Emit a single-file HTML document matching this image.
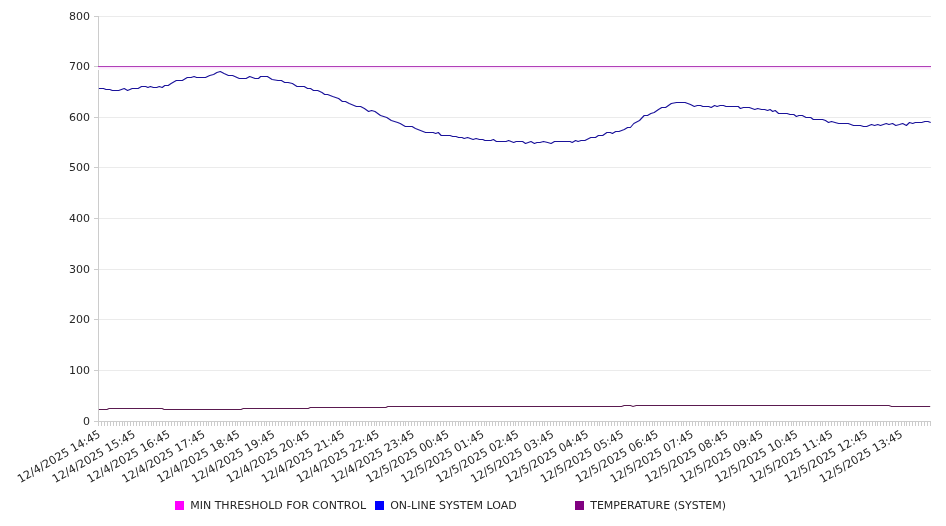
<!DOCTYPE html>
<html><head><meta charset="utf-8"><title>Chart</title>
<style>
html,body{margin:0;padding:0;background:#fff;}
body{width:946px;height:526px;overflow:hidden;}
svg{display:block;will-change:transform;font-family:"DejaVu Sans","Liberation Sans",sans-serif;font-size:11px;fill:#262626;}
</style></head>
<body>
<svg width="946" height="526" viewBox="0 0 946 526">
<line x1="98.0" y1="16.5" x2="931.0" y2="16.5" stroke="#ebebeb" stroke-width="1"/>
<line x1="98.0" y1="66.5" x2="931.0" y2="66.5" stroke="#ebebeb" stroke-width="1"/>
<line x1="98.0" y1="117.5" x2="931.0" y2="117.5" stroke="#ebebeb" stroke-width="1"/>
<line x1="98.0" y1="167.5" x2="931.0" y2="167.5" stroke="#ebebeb" stroke-width="1"/>
<line x1="98.0" y1="218.5" x2="931.0" y2="218.5" stroke="#ebebeb" stroke-width="1"/>
<line x1="98.0" y1="269.5" x2="931.0" y2="269.5" stroke="#ebebeb" stroke-width="1"/>
<line x1="98.0" y1="319.5" x2="931.0" y2="319.5" stroke="#ebebeb" stroke-width="1"/>
<line x1="98.0" y1="370.5" x2="931.0" y2="370.5" stroke="#ebebeb" stroke-width="1"/>
<line x1="94" y1="16.5" x2="98.0" y2="16.5" stroke="#cccccc" stroke-width="1"/>
<text x="90" y="20" text-anchor="end">800</text>
<line x1="94" y1="66.5" x2="98.0" y2="66.5" stroke="#cccccc" stroke-width="1"/>
<text x="90" y="70" text-anchor="end">700</text>
<line x1="94" y1="117.5" x2="98.0" y2="117.5" stroke="#cccccc" stroke-width="1"/>
<text x="90" y="121" text-anchor="end">600</text>
<line x1="94" y1="167.5" x2="98.0" y2="167.5" stroke="#cccccc" stroke-width="1"/>
<text x="90" y="171" text-anchor="end">500</text>
<line x1="94" y1="218.5" x2="98.0" y2="218.5" stroke="#cccccc" stroke-width="1"/>
<text x="90" y="222" text-anchor="end">400</text>
<line x1="94" y1="269.5" x2="98.0" y2="269.5" stroke="#cccccc" stroke-width="1"/>
<text x="90" y="273" text-anchor="end">300</text>
<line x1="94" y1="319.5" x2="98.0" y2="319.5" stroke="#cccccc" stroke-width="1"/>
<text x="90" y="323" text-anchor="end">200</text>
<line x1="94" y1="370.5" x2="98.0" y2="370.5" stroke="#cccccc" stroke-width="1"/>
<text x="90" y="374" text-anchor="end">100</text>
<line x1="94" y1="421.5" x2="98.0" y2="421.5" stroke="#cccccc" stroke-width="1"/>
<text x="90" y="425" text-anchor="end">0</text>
<path d="M98.5 421V426 M101.5 421V426 M104.5 421V426 M107.5 421V426 M110.5 421V426 M113.5 421V426 M116.5 421V426 M119.5 421V426 M122.5 421V426 M124.5 421V426 M127.5 421V426 M130.5 421V426 M133.5 421V426 M136.5 421V426 M139.5 421V426 M142.5 421V426 M145.5 421V426 M148.5 421V426 M151.5 421V426 M153.5 421V426 M156.5 421V426 M159.5 421V426 M162.5 421V426 M165.5 421V426 M168.5 421V426 M171.5 421V426 M174.5 421V426 M177.5 421V426 M180.5 421V426 M182.5 421V426 M185.5 421V426 M188.5 421V426 M191.5 421V426 M194.5 421V426 M197.5 421V426 M200.5 421V426 M203.5 421V426 M206.5 421V426 M208.5 421V426 M211.5 421V426 M214.5 421V426 M217.5 421V426 M220.5 421V426 M223.5 421V426 M226.5 421V426 M229.5 421V426 M232.5 421V426 M235.5 421V426 M237.5 421V426 M240.5 421V426 M243.5 421V426 M246.5 421V426 M249.5 421V426 M252.5 421V426 M255.5 421V426 M258.5 421V426 M261.5 421V426 M264.5 421V426 M266.5 421V426 M269.5 421V426 M272.5 421V426 M275.5 421V426 M278.5 421V426 M281.5 421V426 M284.5 421V426 M287.5 421V426 M290.5 421V426 M292.5 421V426 M295.5 421V426 M298.5 421V426 M301.5 421V426 M304.5 421V426 M307.5 421V426 M310.5 421V426 M313.5 421V426 M316.5 421V426 M319.5 421V426 M321.5 421V426 M324.5 421V426 M327.5 421V426 M330.5 421V426 M333.5 421V426 M336.5 421V426 M339.5 421V426 M342.5 421V426 M345.5 421V426 M347.5 421V426 M350.5 421V426 M353.5 421V426 M356.5 421V426 M359.5 421V426 M362.5 421V426 M365.5 421V426 M368.5 421V426 M371.5 421V426 M374.5 421V426 M376.5 421V426 M379.5 421V426 M382.5 421V426 M385.5 421V426 M388.5 421V426 M391.5 421V426 M394.5 421V426 M397.5 421V426 M400.5 421V426 M403.5 421V426 M405.5 421V426 M408.5 421V426 M411.5 421V426 M414.5 421V426 M417.5 421V426 M420.5 421V426 M423.5 421V426 M426.5 421V426 M429.5 421V426 M431.5 421V426 M434.5 421V426 M437.5 421V426 M440.5 421V426 M443.5 421V426 M446.5 421V426 M449.5 421V426 M452.5 421V426 M455.5 421V426 M458.5 421V426 M460.5 421V426 M463.5 421V426 M466.5 421V426 M469.5 421V426 M472.5 421V426 M475.5 421V426 M478.5 421V426 M481.5 421V426 M484.5 421V426 M486.5 421V426 M489.5 421V426 M492.5 421V426 M495.5 421V426 M498.5 421V426 M501.5 421V426 M504.5 421V426 M507.5 421V426 M510.5 421V426 M513.5 421V426 M515.5 421V426 M518.5 421V426 M521.5 421V426 M524.5 421V426 M527.5 421V426 M530.5 421V426 M533.5 421V426 M536.5 421V426 M539.5 421V426 M542.5 421V426 M544.5 421V426 M547.5 421V426 M550.5 421V426 M553.5 421V426 M556.5 421V426 M559.5 421V426 M562.5 421V426 M565.5 421V426 M568.5 421V426 M570.5 421V426 M573.5 421V426 M576.5 421V426 M579.5 421V426 M582.5 421V426 M585.5 421V426 M588.5 421V426 M591.5 421V426 M594.5 421V426 M597.5 421V426 M599.5 421V426 M602.5 421V426 M605.5 421V426 M608.5 421V426 M611.5 421V426 M614.5 421V426 M617.5 421V426 M620.5 421V426 M623.5 421V426 M626.5 421V426 M628.5 421V426 M631.5 421V426 M634.5 421V426 M637.5 421V426 M640.5 421V426 M643.5 421V426 M646.5 421V426 M649.5 421V426 M652.5 421V426 M654.5 421V426 M657.5 421V426 M660.5 421V426 M663.5 421V426 M666.5 421V426 M669.5 421V426 M672.5 421V426 M675.5 421V426 M678.5 421V426 M681.5 421V426 M683.5 421V426 M686.5 421V426 M689.5 421V426 M692.5 421V426 M695.5 421V426 M698.5 421V426 M701.5 421V426 M704.5 421V426 M707.5 421V426 M709.5 421V426 M712.5 421V426 M715.5 421V426 M718.5 421V426 M721.5 421V426 M724.5 421V426 M727.5 421V426 M730.5 421V426 M733.5 421V426 M736.5 421V426 M738.5 421V426 M741.5 421V426 M744.5 421V426 M747.5 421V426 M750.5 421V426 M753.5 421V426 M756.5 421V426 M759.5 421V426 M762.5 421V426 M765.5 421V426 M767.5 421V426 M770.5 421V426 M773.5 421V426 M776.5 421V426 M779.5 421V426 M782.5 421V426 M785.5 421V426 M788.5 421V426 M791.5 421V426 M793.5 421V426 M796.5 421V426 M799.5 421V426 M802.5 421V426 M805.5 421V426 M808.5 421V426 M811.5 421V426 M814.5 421V426 M817.5 421V426 M820.5 421V426 M822.5 421V426 M825.5 421V426 M828.5 421V426 M831.5 421V426 M834.5 421V426 M837.5 421V426 M840.5 421V426 M843.5 421V426 M846.5 421V426 M848.5 421V426 M851.5 421V426 M854.5 421V426 M857.5 421V426 M860.5 421V426 M863.5 421V426 M866.5 421V426 M869.5 421V426 M872.5 421V426 M875.5 421V426 M877.5 421V426 M880.5 421V426 M883.5 421V426 M886.5 421V426 M889.5 421V426 M892.5 421V426 M895.5 421V426 M898.5 421V426 M901.5 421V426 M904.5 421V426 M906.5 421V426 M909.5 421V426 M912.5 421V426 M915.5 421V426 M918.5 421V426 M921.5 421V426 M924.5 421V426 M927.5 421V426 M930.5 421V426" stroke="#cccccc" stroke-width="1" fill="none"/>
<line x1="98.5" y1="16" x2="98.5" y2="422" stroke="#cccccc" stroke-width="1"/>
<line x1="98.0" y1="421.5" x2="931.0" y2="421.5" stroke="#cccccc" stroke-width="1"/>
<text transform="translate(101.3,436.4) rotate(-30)" text-anchor="end" font-size="11.25">12/4/2025 14:45</text>
<text transform="translate(136.2,436.4) rotate(-30)" text-anchor="end" font-size="11.25">12/4/2025 15:45</text>
<text transform="translate(171.0,436.4) rotate(-30)" text-anchor="end" font-size="11.25">12/4/2025 16:45</text>
<text transform="translate(205.9,436.4) rotate(-30)" text-anchor="end" font-size="11.25">12/4/2025 17:45</text>
<text transform="translate(240.8,436.4) rotate(-30)" text-anchor="end" font-size="11.25">12/4/2025 18:45</text>
<text transform="translate(275.7,436.4) rotate(-30)" text-anchor="end" font-size="11.25">12/4/2025 19:45</text>
<text transform="translate(310.5,436.4) rotate(-30)" text-anchor="end" font-size="11.25">12/4/2025 20:45</text>
<text transform="translate(345.4,436.4) rotate(-30)" text-anchor="end" font-size="11.25">12/4/2025 21:45</text>
<text transform="translate(380.3,436.4) rotate(-30)" text-anchor="end" font-size="11.25">12/4/2025 22:45</text>
<text transform="translate(415.2,436.4) rotate(-30)" text-anchor="end" font-size="11.25">12/4/2025 23:45</text>
<text transform="translate(450.0,436.4) rotate(-30)" text-anchor="end" font-size="11.25">12/5/2025 00:45</text>
<text transform="translate(484.9,436.4) rotate(-30)" text-anchor="end" font-size="11.25">12/5/2025 01:45</text>
<text transform="translate(519.8,436.4) rotate(-30)" text-anchor="end" font-size="11.25">12/5/2025 02:45</text>
<text transform="translate(554.6,436.4) rotate(-30)" text-anchor="end" font-size="11.25">12/5/2025 03:45</text>
<text transform="translate(589.5,436.4) rotate(-30)" text-anchor="end" font-size="11.25">12/5/2025 04:45</text>
<text transform="translate(624.4,436.4) rotate(-30)" text-anchor="end" font-size="11.25">12/5/2025 05:45</text>
<text transform="translate(659.3,436.4) rotate(-30)" text-anchor="end" font-size="11.25">12/5/2025 06:45</text>
<text transform="translate(694.1,436.4) rotate(-30)" text-anchor="end" font-size="11.25">12/5/2025 07:45</text>
<text transform="translate(729.0,436.4) rotate(-30)" text-anchor="end" font-size="11.25">12/5/2025 08:45</text>
<text transform="translate(763.9,436.4) rotate(-30)" text-anchor="end" font-size="11.25">12/5/2025 09:45</text>
<text transform="translate(798.8,436.4) rotate(-30)" text-anchor="end" font-size="11.25">12/5/2025 10:45</text>
<text transform="translate(833.6,436.4) rotate(-30)" text-anchor="end" font-size="11.25">12/5/2025 11:45</text>
<text transform="translate(868.5,436.4) rotate(-30)" text-anchor="end" font-size="11.25">12/5/2025 12:45</text>
<text transform="translate(903.4,436.4) rotate(-30)" text-anchor="end" font-size="11.25">12/5/2025 13:45</text>
<rect x="98.0" y="67" width="833.0" height="1" fill="#fbe2fb"/>
<rect x="98.0" y="68" width="833.0" height="1" fill="#fdeefd"/>
<rect x="98.0" y="69" width="833.0" height="1" fill="#fef7fe"/>
<line x1="98.0" y1="66.5" x2="931.0" y2="66.5" stroke="#b040b8" stroke-width="1.05"/>
<polyline points="98.9,88.5 103.5,88.5 106.0,89.5 109.8,89.5 112.3,90.5 118.7,90.5 124.2,88.5 127.6,90.5 132.2,88.5 138.1,88.5 141.5,86.5 145.7,86.5 147.9,87.5 150.4,86.5 153.4,87.5 156.7,87.5 159.3,86.5 162.2,87.5 164.8,85.5 168.2,85.5 171.1,83.5 176.3,80.5 182.3,80.5 187.3,77.5 191.1,77.5 194.1,76.5 196.6,77.5 205.5,77.5 209.7,75.5 213.6,74.5 216.9,72.5 220.3,71.5 224.1,73.5 228.4,75.5 232.6,75.5 239.3,78.5 246.1,78.5 249.7,76.5 255.1,78.5 258.5,78.5 260.6,76.5 267.4,76.5 272.1,79.5 278.0,80.5 281.4,80.5 284.7,82.5 288.1,82.5 292.4,83.5 297.0,86.5 304.2,86.5 307.6,88.5 310.5,88.5 313.5,90.5 317.7,90.5 322.0,92.5 324.7,94.5 327.6,94.5 332.7,96.5 338.6,98.5 342.4,101.5 345.4,101.5 349.2,103.5 356.4,106.5 360.6,106.5 364.4,108.5 368.6,111.5 371.6,110.5 375.0,111.5 380.5,115.5 386.8,117.5 391.3,120.5 397.7,122.5 400.2,123.5 405.3,126.5 412.1,126.5 415.4,128.5 420.5,130.5 425.6,132.5 433.2,132.5 435.7,133.5 438.3,132.5 441.2,135.5 450.1,135.5 452.7,136.5 456.0,136.5 458.6,137.5 462.0,137.5 464.2,138.5 467.6,137.5 473.1,139.5 476.1,138.5 479.5,139.5 482.8,139.5 484.9,140.5 490.9,140.5 493.4,139.5 496.4,141.5 506.1,141.5 508.6,140.5 513.7,142.5 516.2,141.5 522.6,141.5 525.5,143.5 531.0,141.5 534.4,143.5 537.0,142.5 540.0,142.5 543.5,141.5 547.7,142.5 551.1,143.5 554.5,141.5 570.1,141.5 572.2,142.5 575.6,140.5 578.1,141.5 581.1,140.5 584.9,140.5 590.8,137.5 595.5,137.5 598.4,135.5 602.7,135.5 606.9,132.5 610.3,132.5 612.4,133.5 615.7,131.5 619.0,131.5 624.3,129.5 627.6,127.5 630.4,127.5 633.8,123.5 639.5,120.5 644.2,115.5 647.5,115.5 650.9,113.5 654.2,112.5 658.5,109.5 661.8,107.5 665.6,107.5 671.3,103.5 676.5,102.5 685.1,102.5 690.5,104.5 694.3,106.5 697.3,105.5 700.6,105.5 702.8,106.5 708.7,106.5 711.2,107.5 714.6,105.5 717.1,106.5 720.1,105.5 723.5,105.5 726.0,106.5 738.3,106.5 740.4,108.5 743.4,107.5 749.3,107.5 754.8,109.5 757.7,108.5 761.5,109.5 764.7,109.5 767.6,110.5 770.1,109.5 772.7,111.5 775.2,110.5 778.6,113.5 787.1,113.5 790.0,114.5 793.8,114.5 796.4,116.5 798.9,115.5 802.3,115.5 806.1,117.5 810.7,117.5 813.3,119.5 822.6,119.5 825.5,120.5 828.5,122.5 831.5,121.5 835.0,122.5 838.7,123.5 848.2,123.5 853.5,125.5 860.4,125.5 863.5,126.5 866.7,126.5 871.5,124.5 874.6,125.5 877.8,124.5 880.5,125.5 886.3,123.5 888.9,124.5 892.6,123.5 895.8,125.5 899.5,124.5 902.7,123.5 906.4,125.5 909.5,122.5 912.7,123.5 915.3,122.5 921.7,122.5 924.9,121.5 928.0,121.5 930.7,122.5" fill="none" stroke="#1a129a" stroke-width="1.1" stroke-linejoin="round"/>
<polyline points="98.9,409.5 107.0,409.5 109.0,408.5 162.2,408.5 164.1,409.5 241.1,409.5 243.2,408.5 308.3,408.5 310.2,407.5 385.9,407.5 387.8,406.5 621.6,406.5 624.1,405.5 630.5,405.5 633.0,406.5 636.2,405.5 888.9,405.5 891.5,406.5 930.2,406.5" fill="none" stroke="#5a1a50" stroke-width="1.15"/>
<rect x="175" y="501" width="9" height="9" fill="#ff00ff"/>
<text x="190.2" y="509.2">MIN THRESHOLD FOR CONTROL</text>
<rect x="375" y="501" width="9" height="9" fill="#0000ff"/>
<text x="390.2" y="509.2">ON-LINE SYSTEM LOAD</text>
<rect x="575" y="501" width="9" height="9" fill="#800080"/>
<text x="590.2" y="509.2">TEMPERATURE (SYSTEM)</text>
</svg>
</body></html>
